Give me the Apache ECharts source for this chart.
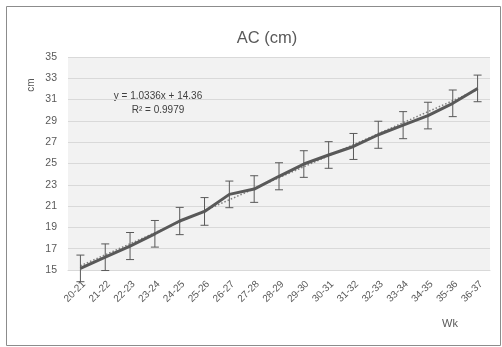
<!DOCTYPE html>
<html><head><meta charset="utf-8">
<script src="https://cdn.jsdelivr.net/npm/echarts@6/dist/echarts.min.js"></script>
<style>html,body{margin:0;padding:0;background:#fff}#c{width:502px;height:347px}</style>
</head><body><div id="c"></div>
<script>
var categories = ['20-21','21-22','22-23','23-24','24-25','25-26','26-27','27-28','28-29','29-30','30-31','31-32','32-33','33-34','34-35','35-36','36-37'];
var acMean = [15.15,16.2,17.25,18.4,19.6,20.5,22.1,22.6,23.8,24.95,25.8,26.6,27.7,28.6,29.5,30.65,32.05];
var acError = [1.25,1.25,1.27,1.25,1.28,1.3,1.25,1.25,1.27,1.25,1.25,1.22,1.27,1.27,1.25,1.25,1.25];
var yTicks = [15,17,19,21,23,25,27,29,31,33,35];
var trendSlope = 1.0336, trendIntercept = 14.36, trendR2 = 0.9979;

var trend = categories.map(function(c,i){ return +(trendSlope*(i+1)+trendIntercept).toFixed(4); });
var errData = categories.map(function(c,i){ return [i, acMean[i]-acError[i], acMean[i]+acError[i]]; });
var FF = 'Liberation Sans, Arial, sans-serif';

var chart = echarts.init(document.getElementById('c'));
chart.setOption({
  animation:false,
  textStyle:{fontFamily:FF},
  grid:{left:68, right:12, top:57, bottom:77, show:true, backgroundColor:'#f2f2f2', borderWidth:0},
  xAxis:{type:'category', data:categories, boundaryGap:true,
    axisLine:{show:true, lineStyle:{color:'#d9d9d9'}}, axisTick:{show:false},
    axisLabel:{rotate:45, fontSize:10, color:'#595959', margin:9, interval:0, verticalAlign:'top'}},
  yAxis:{type:'value', min:15, max:35, interval:2,
    axisLine:{show:false}, axisTick:{show:false},
    axisLabel:{fontSize:10.5, color:'#595959', margin:11, formatter:function(v){return yTicks.indexOf(v)>=0?String(v):'';}},
    splitLine:{lineStyle:{color:'#d9d9d9', width:1}}},
  graphic:[
    {type:'rect', shape:{x:6.5,y:6.5,width:494,height:339}, style:{fill:'none', stroke:'#8c8c8c', lineWidth:1}, z:-10},
    {type:'text', style:{text:'AC (cm)', x:267, y:38, align:'center', verticalAlign:'middle', fontSize:16.5, fill:'#595959', fontFamily:FF}},
    {type:'text', x:31, y:85, rotation:Math.PI/2, style:{text:'cm', x:0, y:0, align:'center', verticalAlign:'middle', fontSize:10, fill:'#595959', fontFamily:FF}},
    {type:'text', style:{text:'Wk', x:450, y:324, align:'center', verticalAlign:'middle', fontSize:11, fill:'#595959', fontFamily:FF}},
    {type:'text', style:{text:'y = ' + trendSlope + 'x + ' + trendIntercept, x:158, y:96, align:'center', verticalAlign:'middle', fontSize:10, fill:'#404040', fontFamily:FF}},
    {type:'text', style:{text:'R² = ' + trendR2, x:158, y:110, align:'center', verticalAlign:'middle', fontSize:10, fill:'#404040', fontFamily:FF}}
  ],
  series:[
    {type:'line', data:trend, symbol:'none', lineStyle:{color:'#7f7f7f', width:1.5, type:[1.5,2]}, z:2, silent:true},
    {type:'line', data:acMean, symbol:'none', lineStyle:{color:'#595959', width:3}, z:3},
    {type:'custom', data:errData, z:4,
      renderItem:function(params, api){
        var i = api.value(0);
        var lo = api.coord([i, api.value(1)]);
        var hi = api.coord([i, api.value(2)]);
        var w = 4;
        var st = {stroke:'#595959', lineWidth:1};
        return {type:'group', children:[
          {type:'line', shape:{x1:lo[0],y1:lo[1],x2:hi[0],y2:hi[1]}, style:st},
          {type:'line', shape:{x1:lo[0]-w,y1:lo[1],x2:lo[0]+w,y2:lo[1]}, style:st},
          {type:'line', shape:{x1:hi[0]-w,y1:hi[1],x2:hi[0]+w,y2:hi[1]}, style:st}
        ]};
      }}
  ]
});
</script></body></html>
